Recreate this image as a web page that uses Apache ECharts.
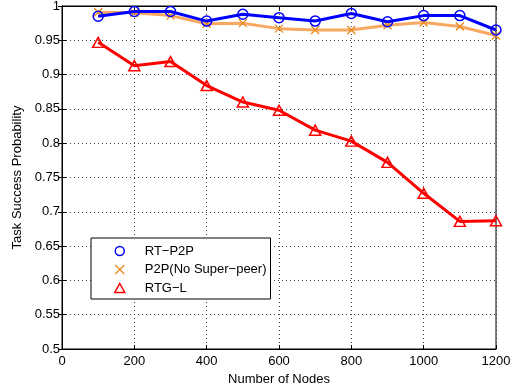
<!DOCTYPE html>
<html>
<head>
<meta charset="utf-8">
<script src="https://cdn.jsdelivr.net/npm/echarts@6/dist/echarts.min.js"></script>
<style>
  html, body { margin: 0; padding: 0; background: #fff; }
  #chart { width: 514px; height: 387px; }
</style>
</head>
<body>
<div id="chart"></div>
<script>
// Number of nodes in the network
const nodes = [100, 200, 300, 400, 500, 600, 700, 800, 900, 1000, 1100, 1200];

// Task success probability for each scheme
const rtP2P   = [0.985, 0.992, 0.992, 0.978, 0.988, 0.983, 0.978, 0.989, 0.977, 0.986, 0.986, 0.965];
const p2pNoSP = [0.991, 0.990, 0.986, 0.974, 0.975, 0.967, 0.965, 0.965, 0.972, 0.976, 0.970, 0.957];
const rtgL    = [0.947, 0.913, 0.919, 0.884, 0.860, 0.848, 0.819, 0.803, 0.772, 0.727, 0.686, 0.687];

const seriesNames = ['RT\u2212P2P', 'P2P(No Super\u2212peer)', 'RTG\u2212L'];

const FONT = 'Liberation Sans, Arial, sans-serif';
const FS = 13;
const crossPath = 'path://M0,0L10,10M10,0L0,10';
const trianglePath = 'path://M5,0L10,9L0,9Z';

function pairs(vals) {
  return nodes.map((n, i) => [n, vals[i]]);
}

const chart = echarts.init(document.getElementById('chart'), null, { renderer: 'canvas' });

const dotted = { color: '#444', width: 1, type: [1, 3] };
const tickStyle = { show: true, inside: true, length: 4, lineStyle: { color: '#000', width: 1 } };

chart.setOption({
  animation: false,
  backgroundColor: '#fff',
  grid: {
    left: 62, right: 18, top: 6, bottom: 38,
    outerBoundsMode: 'none', containLabel: false,
    show: true, borderColor: '#000', borderWidth: 1, backgroundColor: 'transparent'
  },
  xAxis: [{
    type: 'value', min: 0, max: 1200, interval: 200,
    name: 'Number of Nodes', nameLocation: 'middle', nameGap: 19,
    nameTextStyle: { fontFamily: FONT, fontSize: FS, color: '#000' },
    axisLine: { show: true, lineStyle: { color: '#000', width: 1 } },
    axisTick: tickStyle,
    axisLabel: { fontFamily: FONT, fontSize: FS, color: '#000', margin: 6, formatter: v => String(v) },
    splitLine: { show: true, lineStyle: dotted }
  }, {
    type: 'value', min: 0, max: 1200, interval: 200, position: 'top',
    axisLine: { show: true, lineStyle: { color: '#000' } },
    axisTick: tickStyle, axisLabel: { show: false }, splitLine: { show: false }
  }],
  yAxis: [{
    type: 'value', min: 0.5, max: 1, interval: 0.05,
    name: 'Task Success Probability', nameLocation: 'middle', nameGap: 36,
    nameTextStyle: { fontFamily: FONT, fontSize: FS, color: '#000' },
    axisLine: { show: true, lineStyle: { color: '#000', width: 1 } },
    axisTick: tickStyle,
    axisLabel: {
      fontFamily: FONT, fontSize: FS, color: '#000', margin: 2,
      formatter: v => String(parseFloat(v.toFixed(2)))
    },
    splitLine: { show: true, lineStyle: dotted }
  }, {
    type: 'value', min: 0.5, max: 1, interval: 0.05, position: 'right',
    axisLine: { show: true, lineStyle: { color: '#000' } },
    axisTick: tickStyle, axisLabel: { show: false }, splitLine: { show: false }
  }],
  legend: {
    orient: 'vertical',
    left: 91, top: 238,
    padding: [6, 4, 4, 23],
    itemWidth: 40, itemHeight: 9, itemGap: 4.5,
    symbolKeepAspect: true,
    backgroundColor: '#fff',
    borderColor: '#000', borderWidth: 1,
    textStyle: { fontFamily: FONT, fontSize: FS, lineHeight: 14, color: '#000' },
    data: [
      { name: seriesNames[0], icon: 'circle',
        itemStyle: { color: 'rgba(0,0,0,0)', borderColor: '#0000ff', borderWidth: 1.5 } },
      { name: seriesNames[1], icon: crossPath,
        itemStyle: { color: 'rgba(0,0,0,0)', borderColor: '#e8891c', borderWidth: 1.3 } },
      { name: seriesNames[2], icon: trianglePath,
        itemStyle: { color: 'rgba(0,0,0,0)', borderColor: '#ff0000', borderWidth: 1.5 } }
    ]
  },
  series: [{
    name: seriesNames[0], type: 'line', data: pairs(rtP2P),
    symbol: 'circle', symbolSize: 10, z: 4,
    lineStyle: { color: '#0000ff', width: 3 },
    itemStyle: { color: 'rgba(0,0,0,0)', borderColor: '#0000ff', borderWidth: 1.5 }
  }, {
    name: seriesNames[1], type: 'line', data: pairs(p2pNoSP),
    symbol: crossPath, symbolSize: 8, z: 3,
    lineStyle: { color: '#f8a860', width: 3 },
    itemStyle: { color: 'rgba(0,0,0,0)', borderColor: '#e8891c', borderWidth: 1.3 }
  }, {
    name: seriesNames[2], type: 'line', data: pairs(rtgL),
    symbol: trianglePath, symbolSize: [11, 10], z: 3,
    lineStyle: { color: '#ff0000', width: 3 },
    itemStyle: { color: 'rgba(0,0,0,0)', borderColor: '#ff0000', borderWidth: 1.5 }
  }]
});
</script>
</body>
</html>
